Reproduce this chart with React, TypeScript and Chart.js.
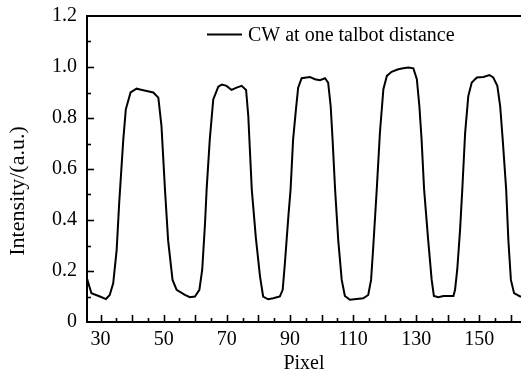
import React, { useEffect, useRef } from "react";
import { Chart, registerables } from "chart.js";

Chart.register(...registerables);

const seriesLabel = "CW at one talbot distance";
const xTitle = "Pixel";
const yTitle = "Intensity/(a.u.)";

const pixel = [
  25.7, 27.1, 29.8, 31.7, 32.9, 34.0, 35.1, 35.9, 37.2, 38.0, 39.5, 41.4, 42.5, 44.6, 46.7, 48.3, 49.3,
  50.4, 51.4, 52.8, 54.1, 56.7, 58.3, 59.9, 61.3, 62.2, 63.1, 63.6, 64.6, 65.7, 67.3, 68.4, 69.9,
  71.5, 73.1, 74.7, 76.1, 76.8, 77.9, 79.2, 80.5, 81.5, 83.1, 84.7, 86.8, 87.7, 88.4, 89.5, 90.2,
  91.0, 91.9, 92.6, 93.7, 96.3, 97.9, 99.5, 101.1, 102.1, 102.9, 103.5, 104.3, 105.3, 106.4, 107.4,
  109.0, 111.1, 113.2, 114.8, 115.7, 116.4, 117.5, 118.5, 119.6, 120.7, 122.2, 124.3, 125.9, 127.5,
  129.1, 130.2, 131.0, 131.7, 132.5, 133.8, 134.9, 135.6, 137.0, 138.6, 141.8, 142.3, 143.0, 143.9,
  144.6, 145.5, 146.5, 147.6, 149.2, 151.3, 153.2, 154.4, 155.7, 156.6, 157.4, 158.5, 159.2, 160.0,
  161.0, 162.9, 163.2,
];

const intensity = [
  0.17, 0.113, 0.1, 0.09, 0.106, 0.152, 0.283, 0.467, 0.716, 0.834, 0.9, 0.915, 0.912, 0.906, 0.9, 0.88, 0.768,
  0.52, 0.32, 0.165, 0.126, 0.106, 0.097, 0.1, 0.126, 0.205, 0.388, 0.52, 0.716, 0.873, 0.923, 0.931, 0.926,
  0.91, 0.919, 0.926, 0.91, 0.808, 0.52, 0.33, 0.18, 0.1, 0.089, 0.093, 0.1, 0.126, 0.231, 0.414, 0.52,
  0.716, 0.834, 0.919, 0.956, 0.961, 0.952, 0.948, 0.956, 0.939, 0.847, 0.716, 0.52, 0.32, 0.165, 0.102,
  0.087, 0.09, 0.093, 0.106, 0.165, 0.296, 0.52, 0.742, 0.913, 0.965, 0.981, 0.991, 0.995, 0.998,
  0.995, 0.952, 0.847, 0.716, 0.52, 0.32, 0.165, 0.102, 0.097, 0.102, 0.102, 0.126, 0.205, 0.362,
  0.52, 0.742, 0.886, 0.939, 0.959, 0.961, 0.968, 0.959, 0.926, 0.847, 0.716, 0.52, 0.32, 0.165,
  0.113, 0.1, 0.1,
];

const xLabelTicks = [30, 50, 70, 90, 110, 130, 150];
const yLabelTicks = [0, 0.2, 0.4, 0.6, 0.8, 1.0, 1.2];
const xMin = 25.7;
const xMax = 163.2;
const yMin = 0;
const yMax = 1.2;

const FONT = "'Liberation Serif', 'Times New Roman', serif";

const frame = {
  id: "frame",
  afterDatasetsDraw(chart: any) {
    const { ctx, chartArea } = chart;
    const xs = chart.scales.x;
    const ys = chart.scales.y;
    ctx.save();
    ctx.strokeStyle = "#000";
    ctx.lineWidth = 2;
    ctx.beginPath();
    ctx.moveTo(chartArea.left, chartArea.top);
    ctx.lineTo(chart.width, chartArea.top);
    ctx.stroke();
    ctx.lineWidth = 1.6;
    for (let v = 30; v <= xMax; v += 5) {
      const px = Math.round(xs.getPixelForValue(v)) + 0.5;
      const len = v % 10 === 0 ? 7 : 4;
      ctx.beginPath();
      ctx.moveTo(px, chartArea.bottom);
      ctx.lineTo(px, chartArea.bottom - len);
      ctx.stroke();
    }
    for (let i = 1; i < 12; i++) {
      const v = i / 10;
      const py = Math.round(ys.getPixelForValue(v)) + 0.5;
      const len = i % 2 === 0 ? 7 : 4;
      ctx.beginPath();
      ctx.moveTo(chartArea.left, py);
      ctx.lineTo(chartArea.left + len, py);
      ctx.stroke();
    }
    // legend
    const lx = chartArea.left + 120;
    const ly = chartArea.top + 18.5;
    ctx.lineWidth = 2;
    ctx.beginPath();
    ctx.moveTo(lx, ly);
    ctx.lineTo(lx + 35, ly);
    ctx.stroke();
    ctx.fillStyle = "#000";
    ctx.font = `20px ${FONT}`;
    ctx.textBaseline = "middle";
    ctx.textAlign = "left";
    ctx.fillText(chart.data.datasets[0].label, lx + 41, ly + 1);
    // y axis title
    ctx.save();
    ctx.translate(18, (chartArea.top + chartArea.bottom) / 2 + 22);
    ctx.rotate(-Math.PI / 2);
    ctx.font = `22px ${FONT}`;
    ctx.textAlign = "center";
    ctx.textBaseline = "middle";
    ctx.fillText(yTitle, 0, 0);
    ctx.restore();
    ctx.restore();
  },
};

export default function App() {
  const ref = useRef<HTMLCanvasElement>(null);
  useEffect(() => {
    const canvas = ref.current!;
    const chart = new Chart(canvas, {
      type: "line",
      data: {
        datasets: [
          {
            label: seriesLabel,
            data: pixel.map((x, i) => ({ x, y: intensity[i] })),
            borderColor: "#000",
            borderWidth: 2,
            pointRadius: 0,
            tension: 0,
            fill: false,
          },
        ],
      },
      options: {
        animation: false,
        responsive: false,
        devicePixelRatio: 1,
        layout: { padding: { top: 16, right: 0, left: 0, bottom: 0 } },
        plugins: { legend: { display: false }, tooltip: { enabled: false } },
        scales: {
          x: {
            type: "linear",
            min: xMin,
            max: xMax,
            afterBuildTicks: (s: any) => {
              s.ticks = xLabelTicks.map((value) => ({ value }));
            },
            afterFit: (s: any) => {
              s.height = 52;
              s.paddingRight = 0;
            },
            ticks: {
              autoSkip: false,
              maxRotation: 0,
              padding: 6,
              color: "#000",
              font: { family: FONT, size: 20 },
              callback: (v: any) => String(v),
            },
            grid: { display: false, drawTicks: false },
            border: { display: true, color: "#000", width: 2 },
            title: {
              display: true,
              text: xTitle,
              color: "#000",
              font: { family: FONT, size: 20, lineHeight: 1 },
              padding: { top: 0, bottom: 0 },
            },
          },
          y: {
            type: "linear",
            min: yMin,
            max: yMax,
            afterBuildTicks: (s: any) => {
              s.ticks = yLabelTicks.map((value) => ({ value }));
            },
            afterFit: (s: any) => {
              s.width = 87;
              s.paddingTop = 0;
            },
            ticks: {
              padding: 10,
              color: "#000",
              font: { family: FONT, size: 20 },
              callback: (v: any) => (v === 0 ? "0" : Number(v).toFixed(1)),
            },
            grid: { display: false, drawTicks: false },
            border: { display: true, color: "#000", width: 2 },
            title: { display: false },
          },
        },
      },
      plugins: [frame],
    });
    return () => chart.destroy();
  }, []);
  return (
    <div style={{ position: "fixed", left: 0, top: 0, width: 521, height: 374, overflow: "hidden", background: "#fff" }}>
      <canvas ref={ref} width={521} height={374} style={{ display: "block", width: 521, height: 374 }} />
    </div>
  );
}
